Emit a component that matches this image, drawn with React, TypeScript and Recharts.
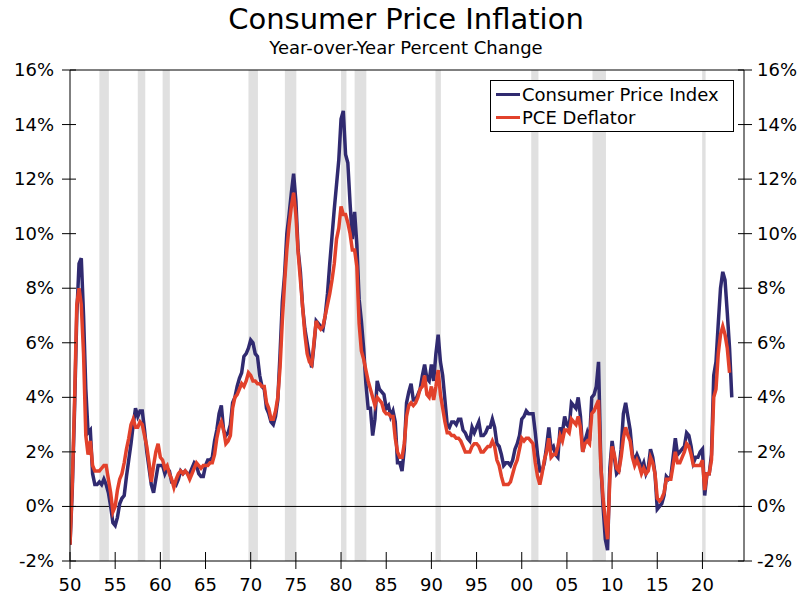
import React from "react";
import {
  ComposedChart,
  Line,
  XAxis,
  YAxis,
  ReferenceArea,
  ReferenceLine,
} from "recharts";

// quarterly YoY % change, first value = 1950 Q1
const START_YEAR = 1950;

const cpi = [
  -1.4, 0.6, 3.5, 7.0, // 1950
  8.9, 9.1, 7.0, 4.3,
  2.7, 2.8, 1.2, 0.8,
  0.8, 0.9, 0.8, 1.0,
  0.8, 0.5, 0.0, -0.6,
  -0.7, -0.4, 0.1, 0.3,
  0.4, 1.1, 1.7, 2.3,
  3.0, 3.6, 3.3, 3.5,
  3.5, 2.8, 2.0, 1.4,
  0.8, 0.5, 1.0, 1.5,
  1.5, 1.5, 1.2, 1.4, // 1960
  1.3, 0.9, 0.9, 0.8,
  1.0, 1.3, 1.2, 1.3,
  1.2, 1.2, 1.4, 1.6,
  1.5, 1.2, 1.1, 1.1,
  1.5, 1.7, 1.7, 1.8,
  2.4, 2.8, 3.4, 3.7,
  2.8, 2.6, 2.7, 3.0,
  3.8, 4.0, 4.4, 4.7,
  4.9, 5.5, 5.6, 5.8,
  6.1, 6.0, 5.6, 5.5, // 1970
  4.8, 4.4, 4.3, 3.6,
  3.4, 3.1, 3.0, 3.3,
  3.9, 5.6, 7.5, 8.5,
  10.0, 10.7, 11.5, 12.2,
  11.2, 9.4, 8.6, 7.3,
  6.5, 6.0, 5.5, 5.1,
  5.9, 6.8, 6.7, 6.6,
  6.5, 7.0, 7.8, 8.9,
  9.9, 10.9, 11.8, 12.7,
  14.2, 14.5, 12.9, 12.6, // 1980
  11.1, 9.8, 10.8, 9.6,
  7.6, 6.8, 5.8, 4.5,
  3.6, 3.6, 2.6, 3.2,
  4.6, 4.3, 4.2, 4.1,
  3.6, 3.7, 3.3, 3.5,
  3.1, 1.6, 1.6, 1.3,
  2.1, 3.8, 4.2, 4.5,
  3.9, 3.9, 4.1, 4.3,
  4.8, 5.2, 4.7, 4.6,
  5.2, 4.6, 5.6, 6.3, // 1990
  5.3, 4.8, 3.9, 3.0,
  2.9, 3.1, 3.1, 3.0,
  3.2, 3.2, 2.8, 2.7,
  2.5, 2.4, 2.9, 2.7,
  2.9, 3.1, 2.6, 2.6,
  2.7, 2.9, 2.9, 3.2,
  2.9, 2.3, 2.2, 1.9,
  1.5, 1.6, 1.6, 1.5,
  1.7, 2.1, 2.3, 2.6,
  3.2, 3.3, 3.5, 3.4, // 2000
  3.4, 3.4, 2.7, 1.9,
  1.3, 1.3, 1.6, 2.2,
  2.9, 2.1, 2.2, 1.9,
  1.8, 2.9, 2.7, 3.3,
  3.0, 2.9, 3.8, 3.7,
  3.6, 4.0, 3.3, 2.0,
  2.4, 2.7, 2.4, 4.0,
  4.1, 4.4, 5.3, 1.6,
  0.0, -1.2, -1.6, 1.4,
  2.4, 1.8, 1.2, 1.3, // 2010
  2.1, 3.4, 3.8, 3.3,
  2.8, 1.9, 1.7, 1.9,
  1.7, 1.4, 1.6, 1.2,
  1.4, 2.1, 1.8, 1.2,
  -0.1, 0.0, 0.1, 0.4,
  1.1, 1.0, 1.1, 1.8,
  2.5, 1.9, 2.0, 2.1,
  2.2, 2.7, 2.6, 2.2,
  1.6, 1.8, 1.8, 2.0,
  2.1, 0.4, 1.2, 1.2, // 2020
  1.9, 4.8, 5.3, 6.7,
  8.0, 8.6, 8.3, 7.1,
  5.8, 4.0,
];

const pce = [
  -1.4, 0.8, 3.8, 7.4, // 1950
  8.0, 7.4, 5.6, 2.6,
  1.9, 2.4, 1.5, 1.3,
  1.3, 1.3, 1.4, 1.5,
  1.5, 1.0, 0.5, -0.2,
  0.0, 0.6, 1.0, 1.2,
  1.6, 2.1, 2.5, 3.0,
  3.2, 2.9, 2.9, 3.1,
  3.0, 2.6, 2.2, 1.6,
  0.9, 1.5, 2.0, 2.3,
  1.8, 1.7, 1.4, 1.5, // 1960
  1.2, 1.0, 0.7, 1.0,
  1.2, 1.3, 1.2, 1.3,
  1.2, 1.0, 1.2, 1.4,
  1.6, 1.5, 1.4, 1.5,
  1.5, 1.5, 1.6, 1.6,
  1.9, 2.5, 2.9, 3.1,
  2.8, 2.3, 2.4, 2.6,
  3.6, 4.0, 4.1, 4.3,
  4.5, 4.4, 4.6, 4.9,
  4.8, 4.6, 4.6, 4.5, // 1970
  4.5, 4.4, 4.4, 3.8,
  3.6, 3.2, 3.2, 3.5,
  4.0, 5.1, 6.8, 8.2,
  9.4, 10.3, 11.0, 11.5,
  10.7, 9.3, 8.3, 7.3,
  6.3, 5.6, 5.3, 5.2,
  6.0, 6.8, 6.6, 6.5,
  6.6, 7.0, 7.4, 7.8,
  8.3, 8.9, 9.8, 10.2,
  11.0, 10.7, 10.7, 10.4, // 1980
  10.0, 9.4, 9.4, 8.8,
  6.7, 5.7, 5.4, 5.0,
  4.6, 4.3, 4.0, 3.7,
  4.0, 3.9, 3.8, 3.5,
  3.4, 3.4, 3.3, 3.3,
  2.5, 2.0, 1.8, 1.8,
  2.3, 3.3, 3.7, 3.8,
  3.7, 3.8, 4.0, 4.3,
  4.4, 4.8, 4.1, 4.0,
  4.4, 3.9, 4.4, 5.0, // 1990
  4.1, 3.6, 3.1, 2.7,
  2.7, 2.6, 2.6, 2.5,
  2.5, 2.4, 2.2, 2.0,
  2.0, 2.0, 2.2, 2.3,
  2.3, 2.2, 2.0, 2.0,
  2.1, 2.2, 2.2, 2.4,
  2.2, 1.7, 1.5, 1.1,
  0.8, 0.8, 0.8, 0.9,
  1.2, 1.5, 1.7, 2.1,
  2.5, 2.4, 2.5, 2.5, // 2000
  2.4, 2.3, 1.6, 1.1,
  0.8, 1.2, 1.7, 2.0,
  2.5, 1.8, 1.9, 1.9,
  2.2, 2.6, 2.4, 2.8,
  2.8, 2.7, 3.2, 3.1,
  3.0, 3.3, 2.9, 2.0,
  2.3, 2.4, 2.3, 3.4,
  3.5, 3.7, 3.9, 1.5,
  0.3, -0.5, -1.2, 1.0,
  2.2, 1.9, 1.4, 1.3, // 2010
  1.8, 2.5, 2.9, 2.6,
  2.4, 1.8, 1.5, 1.7,
  1.5, 1.2, 1.4, 1.2,
  1.3, 1.8, 1.6, 1.2,
  0.3, 0.2, 0.3, 0.5,
  1.0, 1.0, 1.0, 1.5,
  2.0, 1.6, 1.6, 1.8,
  2.0, 2.3, 2.2, 1.9,
  1.5, 1.5, 1.5, 1.5,
  1.7, 0.6, 1.2, 1.2, // 2020
  1.7, 4.0, 4.3, 5.6,
  6.3, 6.6, 6.3, 5.8,
  4.9,
];

// recessions, [start, end] in fractional years
const recessions = [
  [1953.25, 1954.3],
  [1957.5, 1958.33],
  [1960.25, 1961.05],
  [1969.75, 1970.8],
  [1973.78, 1975.05],
  [1980.0, 1980.6],
  [1981.5, 1982.8],
  [1990.45, 1991.05],
  [2001.05, 2001.85],
  [2007.83, 2009.32],
  [2019.97, 2020.35],
];

const xTicks = [1950, 1955, 1960, 1965, 1970, 1975, 1980, 1985, 1990, 1995, 2000, 2005, 2010, 2015, 2020];
const yTicks = [-2, 0, 2, 4, 6, 8, 10, 12, 14, 16];

const BLUE = "#302a70";
const RED = "#e2412b";
const FONT = "'DejaVu Sans', Verdana, sans-serif";

const data = cpi.map((v, i) => ({
  date: START_YEAR + i / 4,
  cpi: v,
  pce: i < pce.length ? pce[i] : null,
}));

const XTick = ({ x, y, payload }: any) => (
  <g>
    <line x1={x} x2={x} y1={y - 9} y2={y + 8} stroke="#000" />
    <text x={x} y={y + 30} textAnchor="middle" fontSize={18} fontFamily={FONT} fill="#000">
      {String(payload.value % 100).padStart(2, "0")}
    </text>
  </g>
);

const LeftTick = ({ x, y, payload }: any) => (
  <g>
    <line x1={x - 8} x2={x + 6} y1={y} y2={y} stroke="#000" />
    <text x={x - 16} y={y + 6} textAnchor="end" fontSize={18} fontFamily={FONT} fill="#000">
      {payload.value}%
    </text>
  </g>
);

const RightTick = ({ x, y, payload }: any) => (
  <g>
    <line x1={x - 6} x2={x + 8} y1={y} y2={y} stroke="#000" />
    <text x={x + 13} y={y + 6} textAnchor="start" fontSize={18} fontFamily={FONT} fill="#000">
      {payload.value}%
    </text>
  </g>
);

const legendItems = [
  { label: "Consumer Price Index", color: BLUE },
  { label: "PCE Deflator", color: RED },
];

export default function App() {
  return (
    <div style={{ position: "absolute", left: 0, top: 0, width: 801, height: 595, background: "#fff" }}>
      <div
        style={{
          position: "absolute",
          top: 2,
          left: 0,
          width: 812,
          textAlign: "center",
          fontFamily: FONT,
          fontSize: 29,
          color: "#000",
        }}
      >
        Consumer Price Inflation
      </div>
      <div
        style={{
          position: "absolute",
          top: 37,
          left: 0,
          width: 812,
          textAlign: "center",
          fontFamily: FONT,
          fontSize: 18,
          color: "#000",
        }}
      >
        Year-over-Year Percent Change
      </div>
      <ComposedChart width={801} height={595} data={data} margin={{ top: 70, right: 0, bottom: 0, left: 0 }}>
        <XAxis
          dataKey="date"
          type="number"
          domain={[1950, 2024.6]}
          ticks={xTicks}
          interval={0}
          height={34}
          tickSize={0}
          tickMargin={0}
          tickLine={false}
          tick={<XTick />}
          axisLine={{ stroke: "#000" }}
          allowDataOverflow
        />
        <YAxis
          yAxisId="left"
          domain={[-2, 16]}
          ticks={yTicks}
          interval={0}
          width={70}
          tickSize={0}
          tickMargin={0}
          tickLine={false}
          tick={<LeftTick />}
          axisLine={{ stroke: "#000" }}
          allowDataOverflow
        />
        <YAxis
          yAxisId="right"
          orientation="right"
          domain={[-2, 16]}
          ticks={yTicks}
          interval={0}
          width={57}
          tickSize={0}
          tickMargin={0}
          tickLine={false}
          tick={<RightTick />}
          axisLine={{ stroke: "#000" }}
          allowDataOverflow
        />
        {recessions.map(([a, b]) => (
          <ReferenceArea
            key={a}
            yAxisId="left"
            x1={a}
            x2={b}
            y1={-2}
            y2={16}
            fill="#e0e0e0"
            fillOpacity={1}
            stroke="none"
          />
        ))}
        <ReferenceLine yAxisId="left" y={0} stroke="#000" strokeWidth={1} />
        <ReferenceLine yAxisId="left" y={16} stroke="#000" strokeWidth={1} />
        <Line
          yAxisId="left"
          type="linear"
          dataKey="cpi"
          stroke={BLUE}
          strokeWidth={3.5}
          dot={false}
          isAnimationActive={false}
        />
        <Line
          yAxisId="left"
          type="linear"
          dataKey="pce"
          stroke={RED}
          strokeWidth={3.5}
          dot={false}
          isAnimationActive={false}
        />
      </ComposedChart>
      <div
        style={{
          position: "absolute",
          left: 490,
          top: 80,
          border: "1px solid #000",
          background: "#fff",
          padding: "2px 14px 2px 5px",
          fontFamily: FONT,
          fontSize: 18,
          lineHeight: "23px",
          color: "#000",
        }}
      >
        {legendItems.map((it) => (
          <div key={it.label} style={{ display: "flex", alignItems: "center" }}>
            <span style={{ display: "inline-block", width: 24, height: 3, background: it.color, marginRight: 2 }} />
            {it.label}
          </div>
        ))}
      </div>
    </div>
  );
}
